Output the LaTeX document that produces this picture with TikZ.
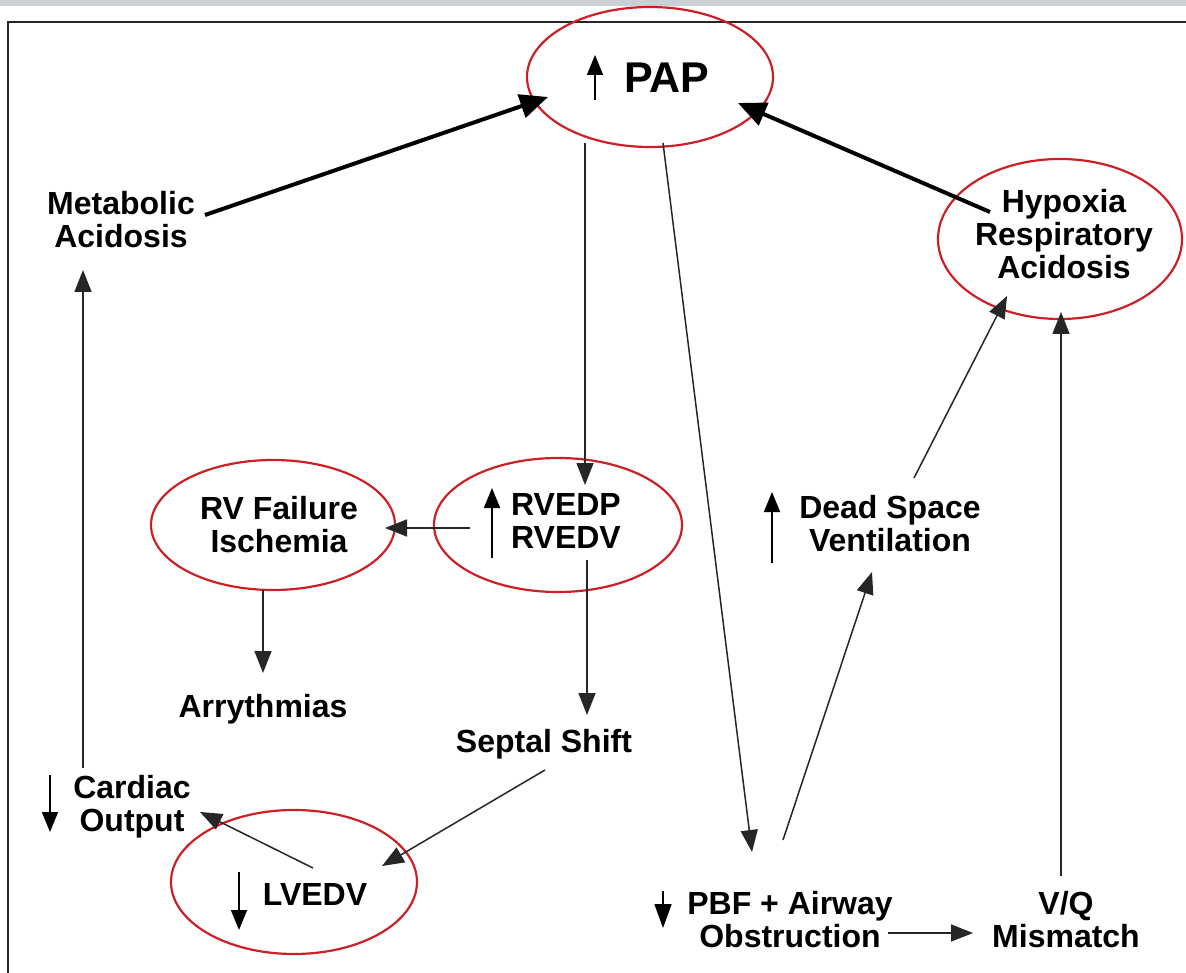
\documentclass[tikz,border=0pt]{standalone}
\usepackage{fontspec}
\setmainfont{Liberation Sans}
\usetikzlibrary{arrows.meta,shapes.geometric}
\definecolor{circred}{RGB}{204,32,38}
\definecolor{bargray}{RGB}{202,208,212}
\begin{document}
\begin{tikzpicture}[x=1pt,y=-1pt,
  lbl/.style={font=\fontsize{32}{33}\selectfont\bfseries, align=center, inner sep=0pt},
  ring/.style={draw=circred, line width=2.2pt, ellipse, inner sep=0pt},
  conn/.style={draw=black!85, line width=1.5pt, -{Triangle[length=22pt,width=17pt]}},
  boldconn/.style={draw=black, line width=4pt, -{Triangle[length=28pt,width=24pt]}},
  glypharrow/.style={draw=black, line width=1.6pt, -{Triangle[length=20pt,width=16pt]}}
]
\useasboundingbox (0,0) rectangle (1186,973);
\fill[bargray] (0,0) rectangle (1186,6);
\draw[line width=2.8pt, black!85] (8,973) -- (8,22) -- (1186,22);

% red ellipses
\node[ring, minimum width=246pt, minimum height=140pt] (papE) at (650,77) {};
\node[ring, minimum width=244pt, minimum height=160pt] (hypE) at (1060,239) {};
\node[ring, minimum width=244pt, minimum height=130pt] (rvfE) at (273,525) {};
\node[ring, minimum width=248pt, minimum height=134pt] (rvedE) at (558,525) {};
\node[ring, minimum width=246pt, minimum height=144pt] (lvE) at (294,882) {};

% texts
\node[inner sep=0pt, anchor=base, font=\fontsize{43}{43}\selectfont\bfseries] (paptxt) at (667,93) {PAP};
\node[lbl] (meta) at (121,220) {Metabolic\\Acidosis};
\node[lbl] (hyp) at (1064,234) {Hypoxia\\Respiratory\\Acidosis};
\node[lbl] (rvf) at (279,525) {RV Failure\\Ischemia};
\node[lbl] (rved) at (566,521) {RVEDP\\RVEDV};
\node[lbl] (dead) at (890,524) {Dead Space\\Ventilation};
\node[lbl, anchor=base] (arry) at (263,717) {Arrythmias};
\node[lbl, anchor=base] (sept) at (544,752) {Septal Shift};
\node[lbl] (card) at (132,807) {Cardiac\\Output};
\node[lbl, anchor=base] (lv) at (315,905) {LVEDV};
\node[lbl] (pbf) at (790,920) {PBF + Airway\\Obstruction};
\node[lbl] (vq) at (1066,920) {V/Q\\Mismatch};

% glyph arrows beside texts
\draw[glypharrow] (595,100) -- (595,55);
\draw[glypharrow] (492,558) -- (492,488);
\draw[glypharrow] (772,563) -- (772,492);
\draw[glypharrow] (50,775) -- (50,832);
\draw[glypharrow] (239,872) -- (239,930);
\draw[draw=black, line width=1.6pt, -{Triangle[length=24pt,width=17pt]}] (663,891) -- (663,928);

% connectors
\draw[boldconn] ([shift={(84,-5)}]meta.center) -- ([shift={(-102,20)}]papE.center);
\draw[boldconn] ([shift={(-74,-22)}]hyp.center) -- ([shift={(88,26)}]papE.center);
\draw[conn] ([shift={(-65,66)}]papE.center) -- ([shift={(27,-40)}]rvedE.center);
\draw[conn] ([shift={(13,66)}]papE.center) -- ([shift={(-38,-68)}]pbf.center);
\draw[conn] ([shift={(-88,3)}]rvedE.center) -- ([shift={(112,3)}]rvfE.center);
\draw[conn] ([shift={(-10,65)}]rvfE.center) -- ([shift={(0,-44)}]arry.base);
\draw[conn] ([shift={(29,35)}]rvedE.center) -- ([shift={(43,-37)}]sept.base);
\draw[conn] ([shift={(1,18)}]sept.base) -- ([shift={(88,-16)}]lvE.center);
\draw[conn] ([shift={(19,-14)}]lvE.center) -- ([shift={(68,5)}]card.center);
\draw[conn] ([shift={(-49,-39)}]card.center) -- ([shift={(-38,50)}]meta.center);
\draw[conn] ([shift={(-7,-80)}]pbf.center) -- ([shift={(-18,48)}]dead.center);
\draw[conn] ([shift={(24,-46)}]dead.center) -- ([shift={(-53,57)}]hypE.center);
\draw[conn] ([shift={(-5,-44)}]vq.center) -- ([shift={(1,73)}]hypE.center);
\draw[conn] ([shift={(98,13)}]pbf.center) -- ([shift={(-93,13)}]vq.center);
\end{tikzpicture}
\end{document}
